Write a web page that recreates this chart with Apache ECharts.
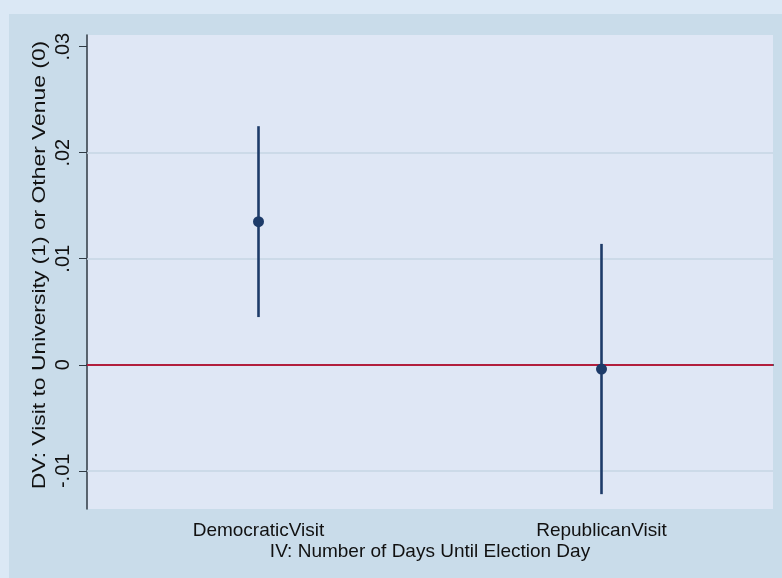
<!DOCTYPE html>
<html>
<head>
<meta charset="utf-8">
<script src="https://cdn.jsdelivr.net/npm/echarts@6/dist/echarts.min.js"></script>
<style>
  html, body { margin: 0; padding: 0; background: #dbe8f5; }
  #chart { width: 782px; height: 578px; }
</style>
</head>
<body>
<div id="chart"></div>
<script>
// Coefficient estimates with 95% confidence intervals
const categories = ['DemocraticVisit', 'RepublicanVisit'];
const estimates = [0.0135, -0.0004];
const ciLower = [0.0045, -0.0122];
const ciUpper = [0.0225, 0.0114];

// y-axis ticks, Stata-style labels, and the inner gridlines
const yTicks = [-0.01, 0, 0.01, 0.02, 0.03];
const yTickLabels = ['-.01', '0', '.01', '.02', '.03'];
const yGridLines = [-0.01, 0.01, 0.02];
const yRange = [-0.0136, 0.0311];
const refLine = 0;

const yTitle = 'DV: Visit to University (1) or Other Venue (0)';
const xTitle = 'IV: Number of Days Until Election Day';

const font = '"Liberation Sans", Arial, sans-serif';
const ink = '#1d3b69';
const axisInk = '#2f3a43';

const chart = echarts.init(document.getElementById('chart'));

chart.setOption({
  backgroundColor: '#dbe8f5',
  animation: false,
  graphic: [
    {
      type: 'rect',
      z: -10,
      shape: { x: 9, y: 14, width: 773, height: 564 },
      style: { fill: '#c9dcea' }
    },
    {
      // vertical axis title, drawn stretched along its reading direction
      type: 'text',
      x: 40,
      y: 265,
      rotation: Math.PI / 2,
      scaleX: 1.27,
      scaleY: 1,
      style: {
        text: yTitle,
        fontFamily: font,
        fontSize: 18,
        fill: '#111',
        align: 'center',
        verticalAlign: 'middle'
      }
    }
  ],
  grid: {
    left: 87, right: 9, top: 35, bottom: 69,
    show: true,
    backgroundColor: '#dfe7f5',
    borderWidth: 0
  },
  xAxis: {
    type: 'category',
    data: categories,
    boundaryGap: true,
    name: xTitle,
    nameLocation: 'middle',
    nameGap: 33,
    nameMoveOverlap: false,
    nameTextStyle: { fontFamily: font, fontSize: 19, color: '#111' },
    axisLine: { lineStyle: { color: axisInk, width: 2 } },
    axisTick: { alignWithLabel: true, length: 6, lineStyle: { color: axisInk, width: 1 } },
    axisLabel: { fontFamily: font, fontSize: 19, color: '#111', margin: 12 },
    splitLine: { show: false }
  },
  yAxis: {
    type: 'value',
    min: yRange[0],
    max: yRange[1],
    axisLine: { show: true, lineStyle: { color: axisInk, width: 1.5 } },
    axisTick: { show: true, length: 8, customValues: yTicks, lineStyle: { color: axisInk } },
    axisLabel: {
      customValues: yTicks,
      rotate: 90,
      margin: 14,
      fontFamily: font,
      fontSize: 20,
      color: '#111',
      formatter: function (v) {
        let best = 0;
        yTicks.forEach(function (t, i) {
          if (Math.abs(t - v) < Math.abs(yTicks[best] - v)) best = i;
        });
        return yTickLabels[best];
      }
    },
    splitLine: { show: false }
  },
  series: [
    {
      // gridlines and the zero reference line, kept beneath the estimates
      type: 'line',
      z: 1,
      data: [],
      markLine: {
        z: 1,
        silent: true,
        symbol: 'none',
        label: { show: false },
        data: yGridLines.map(function (v) {
          return { yAxis: v, lineStyle: { color: '#c6d6e3', width: 1.5, type: 'solid' } };
        }).concat([
          { yAxis: refLine, lineStyle: { color: '#b21f3d', width: 2.2, type: 'solid' } }
        ])
      }
    },
    {
      // confidence-interval spikes
      type: 'custom',
      z: 3,
      data: categories.map(function (c, i) { return [i, ciLower[i], ciUpper[i]]; }),
      renderItem: function (params, api) {
        const lo = api.coord([api.value(0), api.value(1)]);
        const hi = api.coord([api.value(0), api.value(2)]);
        return {
          type: 'line',
          shape: { x1: lo[0], y1: lo[1], x2: hi[0], y2: hi[1] },
          style: { stroke: ink, lineWidth: 2.6 }
        };
      }
    },
    {
      // point estimates
      type: 'scatter',
      z: 4,
      symbol: 'circle',
      symbolSize: 11,
      itemStyle: { color: ink, opacity: 1 },
      data: categories.map(function (c, i) { return [i, estimates[i]]; })
    }
  ]
});
</script>
</body>
</html>
